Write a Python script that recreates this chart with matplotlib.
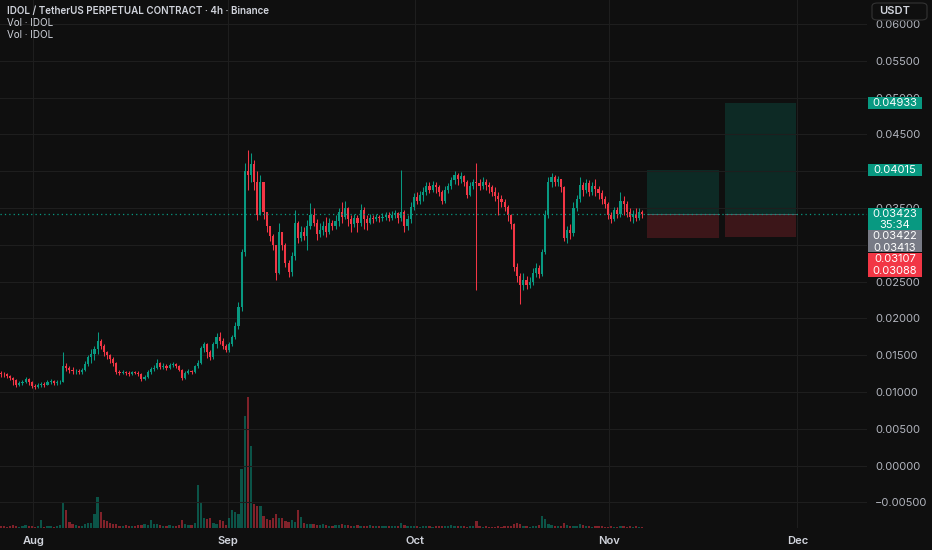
import datetime as dt
import matplotlib
matplotlib.use("Agg")
import matplotlib.pyplot as plt
import matplotlib.dates as mdates
from matplotlib.patches import Rectangle, FancyBboxPatch
from matplotlib.ticker import FuncFormatter
import numpy as np

# 12h candles, starting 26 Jul
start = dt.datetime(2025, 7, 26, 12)
first_open = 0.0126

closes = [
    0.0125, 0.0124, 0.0122, 0.0119, 0.0117, 0.0110, 0.0112, 0.0113, 0.0118, 0.0114,
    0.0108, 0.0107, 0.0109, 0.0111, 0.0110, 0.0113, 0.0115, 0.0112, 0.0113, 0.0114,
    0.0136, 0.0133, 0.0130, 0.0128, 0.0129, 0.0127, 0.0130, 0.0138, 0.0147, 0.0152,
    0.0158, 0.0170, 0.0163, 0.0154, 0.0150, 0.0145, 0.0140, 0.0127, 0.0126, 0.0127,
    0.0126, 0.0125, 0.0127, 0.0126, 0.0125, 0.0118, 0.0120, 0.0127, 0.0131, 0.0133,
    0.0140, 0.0134, 0.0136, 0.0133, 0.0137, 0.0138, 0.0136, 0.0130, 0.0119, 0.0126,
    0.0128, 0.0127, 0.0135, 0.0140, 0.0160, 0.0165, 0.0155, 0.0147, 0.0165, 0.0175,
    0.0170, 0.0162, 0.0157, 0.0165, 0.0175, 0.0190, 0.0215, 0.0290, 0.0400, 0.0395,
    0.0410, 0.0385, 0.0340, 0.0385, 0.0345, 0.0325, 0.0312, 0.0300, 0.0262, 0.0318,
    0.0300, 0.0275, 0.0263, 0.0285, 0.0330, 0.0310, 0.0318, 0.0312, 0.0325, 0.0340,
    0.0330, 0.0315, 0.0320, 0.0326, 0.0318, 0.0330, 0.0326, 0.0332, 0.0345, 0.0338,
    0.0350, 0.0335, 0.0328, 0.0336, 0.0330, 0.0348, 0.0335, 0.0330, 0.0337, 0.0335,
    0.0338, 0.0336, 0.0338, 0.0341, 0.0337, 0.0340, 0.0343, 0.0336, 0.0345, 0.0325,
    0.0335, 0.0352, 0.0365, 0.0360, 0.0368, 0.0372, 0.0380, 0.0375, 0.0382, 0.0378,
    0.0372, 0.0360, 0.0375, 0.0380, 0.0388, 0.0395, 0.0390, 0.0393, 0.0386, 0.0368,
    0.0380, 0.0386, 0.0384, 0.0380, 0.0386, 0.0382, 0.0378, 0.0372, 0.0366, 0.0362,
    0.0358, 0.0352, 0.0340, 0.0328, 0.0270, 0.0258, 0.0245, 0.0252, 0.0245, 0.0250,
    0.0262, 0.0268, 0.0260, 0.0290, 0.0340, 0.0385, 0.0392, 0.0386, 0.0390, 0.0378,
    0.0310, 0.0320, 0.0316, 0.0350, 0.0362, 0.0382, 0.0375, 0.0384, 0.0372, 0.0380,
    0.0376, 0.0370, 0.0362, 0.0356, 0.0340, 0.0335, 0.0348, 0.0342, 0.0360, 0.0355,
    0.0345, 0.0338, 0.0342, 0.0336, 0.0345, 0.03423,
]

highs = [
    0.0128, 0.0127, 0.0126, 0.0123, 0.0121, 0.0118, 0.0115, 0.0116, 0.0121, 0.0119,
    0.0115, 0.0111, 0.0112, 0.0114, 0.0114, 0.0117, 0.0118, 0.0117, 0.0116, 0.0117,
    0.0154, 0.0140, 0.0136, 0.0134, 0.0132, 0.0131, 0.0133, 0.0142, 0.0150, 0.0158,
    0.0162, 0.0181, 0.0172, 0.0165, 0.0156, 0.0152, 0.0147, 0.0141, 0.0130, 0.0130,
    0.0129, 0.0128, 0.0129, 0.0129, 0.0128, 0.0126, 0.0123, 0.0130, 0.0134, 0.0137,
    0.0145, 0.0141, 0.0139, 0.0138, 0.0140, 0.0141, 0.0140, 0.0137, 0.0131, 0.0128,
    0.0131, 0.0130, 0.0137, 0.0143, 0.0163, 0.0168, 0.0166, 0.0157, 0.0168, 0.0180,
    0.0181, 0.0174, 0.0165, 0.0168, 0.0178, 0.0195, 0.0222, 0.0295, 0.0411, 0.0429,
    0.0425, 0.0415, 0.0400, 0.0395, 0.0385, 0.0345, 0.0325, 0.0315, 0.0300, 0.0330,
    0.0318, 0.0302, 0.0280, 0.0290, 0.0347, 0.0332, 0.0325, 0.0324, 0.0334, 0.0357,
    0.0350, 0.0335, 0.0330, 0.0333, 0.0338, 0.0336, 0.0334, 0.0340, 0.0350, 0.0358,
    0.0360, 0.0352, 0.0340, 0.0342, 0.0340, 0.0355, 0.0352, 0.0340, 0.0342, 0.0341,
    0.0342, 0.0341, 0.0343, 0.0345, 0.0344, 0.0346, 0.0348, 0.0345, 0.0402, 0.0348,
    0.0340, 0.0358, 0.0370, 0.0372, 0.0373, 0.0378, 0.0385, 0.0386, 0.0387, 0.0385,
    0.0382, 0.0374, 0.0380, 0.0384, 0.0392, 0.0400, 0.0398, 0.0399, 0.0395, 0.0388,
    0.0385, 0.0390, 0.0411, 0.0390, 0.0392, 0.0390, 0.0386, 0.0382, 0.0378, 0.0372,
    0.0368, 0.0362, 0.0354, 0.0342, 0.0330, 0.0275, 0.0262, 0.0262, 0.0258, 0.0256,
    0.0268, 0.0275, 0.0272, 0.0295, 0.0347, 0.0392, 0.0397, 0.0395, 0.0394, 0.0390,
    0.0380, 0.0325, 0.0328, 0.0358, 0.0368, 0.0392, 0.0386, 0.0389, 0.0388, 0.0386,
    0.0390, 0.0380, 0.0374, 0.0366, 0.0358, 0.0345, 0.0352, 0.0352, 0.0372, 0.0366,
    0.0360, 0.0350, 0.0348, 0.0350, 0.0350, 0.0348,
]

lows = [
    0.0121, 0.0121, 0.0119, 0.0116, 0.0109, 0.0107, 0.0108, 0.0110, 0.0112, 0.0110,
    0.0105, 0.0104, 0.0106, 0.0107, 0.0107, 0.0109, 0.0111, 0.0109, 0.0110, 0.0111,
    0.0113, 0.0128, 0.0126, 0.0125, 0.0125, 0.0124, 0.0125, 0.0129, 0.0136, 0.0140,
    0.0143, 0.0152, 0.0158, 0.0149, 0.0145, 0.0140, 0.0136, 0.0124, 0.0123, 0.0124,
    0.0123, 0.0122, 0.0123, 0.0124, 0.0122, 0.0115, 0.0116, 0.0119, 0.0125, 0.0129,
    0.0131, 0.0131, 0.0132, 0.0130, 0.0131, 0.0134, 0.0133, 0.0128, 0.0117, 0.0118,
    0.0124, 0.0124, 0.0126, 0.0133, 0.0138, 0.0155, 0.0146, 0.0144, 0.0145, 0.0160,
    0.0165, 0.0158, 0.0155, 0.0155, 0.0162, 0.0172, 0.0186, 0.0210, 0.0285, 0.0375,
    0.0385, 0.0375, 0.0334, 0.0340, 0.0335, 0.0318, 0.0305, 0.0293, 0.0252, 0.0260,
    0.0293, 0.0270, 0.0256, 0.0258, 0.0280, 0.0302, 0.0305, 0.0306, 0.0293, 0.0322,
    0.0325, 0.0306, 0.0311, 0.0313, 0.0311, 0.0315, 0.0320, 0.0322, 0.0326, 0.0330,
    0.0335, 0.0325, 0.0318, 0.0324, 0.0318, 0.0326, 0.0322, 0.0320, 0.0328, 0.0330,
    0.0332, 0.0331, 0.0333, 0.0334, 0.0333, 0.0334, 0.0336, 0.0330, 0.0332, 0.0318,
    0.0320, 0.0330, 0.0348, 0.0355, 0.0356, 0.0360, 0.0368, 0.0370, 0.0372, 0.0370,
    0.0366, 0.0355, 0.0357, 0.0370, 0.0376, 0.0383, 0.0382, 0.0384, 0.0380, 0.0363,
    0.0366, 0.0376, 0.0238, 0.0375, 0.0376, 0.0374, 0.0370, 0.0366, 0.0360, 0.0340,
    0.0352, 0.0346, 0.0333, 0.0322, 0.0265, 0.0250, 0.0220, 0.0238, 0.0240, 0.0242,
    0.0246, 0.0256, 0.0255, 0.0258, 0.0288, 0.0336, 0.0378, 0.0380, 0.0380, 0.0372,
    0.0305, 0.0303, 0.0308, 0.0312, 0.0346, 0.0358, 0.0366, 0.0370, 0.0366, 0.0368,
    0.0366, 0.0362, 0.0356, 0.0350, 0.0335, 0.0330, 0.0333, 0.0336, 0.0338, 0.0340,
    0.0338, 0.0332, 0.0330, 0.0333, 0.0334, 0.0337,
]

# volume in millions IDOL
volumes = [
    2, 2, 1, 2, 3, 2, 1, 2, 3, 2, 2, 1, 2, 8, 1, 2, 2, 1, 2, 3,
    26, 18, 6, 4, 3, 2, 2, 4, 5, 5,
    14, 31, 16, 8, 7, 5, 4, 4, 2, 2,
    3, 2, 2, 2, 3, 3, 4, 3, 8, 4,
    4, 3, 2, 2, 3, 2, 2, 3, 8, 4,
    3, 3, 5, 43, 26, 10, 9, 10, 5, 4,
    8, 7, 3, 10, 18, 16, 14, 59, 112, 131,
    82, 24, 22, 22, 12, 9, 8, 10, 14, 10,
    10, 7, 6, 8, 6, 18, 11, 5, 4, 4,
    4, 3, 3, 4, 3, 2, 2, 3, 3, 4,
    3, 3, 2, 2, 3, 2, 2, 2, 3, 2,
    2, 2, 2, 2, 2, 2, 2, 2, 5, 3,
    2, 2, 2, 2, 1, 2, 2, 2, 1, 2,
    2, 2, 2, 2, 3, 2, 2, 2, 2, 1,
    2, 2, 7, 2, 1, 2, 1, 1, 1, 2,
    1, 2, 2, 2, 4, 5, 4, 2, 2, 1,
    2, 2, 3, 12, 9, 4, 3, 2, 2, 2,
    5, 3, 2, 2, 2, 4, 3, 2, 2, 1,
    2, 2, 2, 1, 1, 2, 1, 1, 2, 2,
    1, 2, 1, 2, 1, 1,
]

last_price = 0.03423
countdown = "35:34"

# two long-position tools drawn to the right of the last candle
pos_start = [dt.datetime(2025, 11, 7, 0), dt.datetime(2025, 11, 19, 11)]
pos_end = [dt.datetime(2025, 11, 18, 10), dt.datetime(2025, 11, 30, 19)]
pos_entry = [0.03422, 0.03413]
pos_target = [0.04015, 0.04933]
pos_stop = [0.03088, 0.03107]

BG = "#0f0f0f"
GRID = "#1e1e1e"
UP = "#089981"
DOWN = "#f23645"
TXT = "#b2b5be"
W, H = 932, 550

plt.rcParams['font.family'] = ['Inter', 'DejaVu Sans']

opens = [first_open] + closes[:-1]
o = np.array(opens)
c = np.array(closes)
hi = np.maximum(np.array(highs), np.maximum(o, c))
lo = np.minimum(np.array(lows), np.minimum(o, c))
times = [start + dt.timedelta(hours=12 * i) for i in range(len(closes))]
x = mdates.date2num(times) + 0.25
up = c >= o
cols = np.where(up, UP, DOWN)

fig = plt.figure(figsize=(W / 100, H / 100), dpi=100, facecolor=BG)
rect = [0, 22 / H, 867 / W, 528 / H]

# volume overlay sits behind the candles
axv = fig.add_axes(rect, facecolor=BG)
ax = fig.add_axes(rect, sharex=axv)
ax.patch.set_visible(False)

axv.bar(x, volumes, width=0.36, color=cols, alpha=0.5, linewidth=0)
axv.set_ylim(0, max(volumes) / 0.248)
axv.axis("off")

xmin = mdates.date2num(dt.datetime(2025, 7, 26, 16))
xmax = mdates.date2num(dt.datetime(2025, 12, 12, 3))

# grid
for m in [dt.datetime(2025, mm, 1) for mm in (8, 9, 10, 11, 12)]:
    axv.axvline(mdates.date2num(m), color=GRID, lw=0.8, zorder=0)
yt = np.round(np.arange(-0.005, 0.0601, 0.005), 5)
ax.set_yticks(yt)
ax.grid(axis="y", color=GRID, lw=0.8, zorder=0)
ax.set_xlim(xmin, xmax)
ax.set_ylim(-0.00847, 0.06327)

# candles
ax.vlines(x, lo, hi, colors=cols, lw=0.75, zorder=2)
body = np.maximum(np.abs(c - o), 0.00008)
ax.bar(x, body, bottom=np.minimum(o, c), width=0.34, color=cols, linewidth=0, zorder=3)

# position tools
for s, e, en, tg, st in zip(pos_start, pos_end, pos_entry, pos_target, pos_stop):
    x0 = mdates.date2num(s)
    x1 = mdates.date2num(e)
    ax.add_patch(Rectangle((x0, en), x1 - x0, tg - en, facecolor=UP, alpha=0.2, lw=0, zorder=1))
    ax.add_patch(Rectangle((x0, st), x1 - x0, en - st, facecolor=DOWN, alpha=0.2, lw=0, zorder=1))
    ax.plot([x0, x1], [en, en], color="#5d6068", lw=0.6, zorder=1)

# last price line
ax.axhline(last_price, color=UP, lw=0.9, ls=(0, (1, 2.5)), zorder=4)

# axes styling
for sp in ax.spines.values():
    sp.set_visible(False)
ax.yaxis.tick_right()
ax.tick_params(axis="y", length=0, pad=6, labelsize=8, labelcolor=TXT)
ax.yaxis.set_major_formatter(FuncFormatter(lambda v, p: f"{v:.5f}".replace("-", "\u2212")))
ax.xaxis.set_major_locator(mdates.MonthLocator())
ax.xaxis.set_major_formatter(mdates.DateFormatter("%b"))
ax.tick_params(axis="x", length=0, pad=6, labelsize=8, labelcolor="#d1d4dc")
for lab in ax.get_xticklabels():
    lab.set_fontweight("semibold")
ax.set_xlim(xmin, xmax)


def py(price):
    return H - ax.transData.transform((xmin, price))[1]


def tag(top, bot, color):
    fig.add_artist(Rectangle((868 / W, 1 - bot / H), 54 / W, (bot - top) / H,
                             transform=fig.transFigure, facecolor=color, lw=0, zorder=5))


def tag_text(ypx, s):
    fig.text(895 / W, 1 - ypx / H, s, ha="center", va="center", color="white",
             fontsize=8, zorder=6)


# target labels at their own levels
for tg in pos_target:
    yy = py(tg)
    tag(yy - 6, yy + 6, UP)
    tag_text(yy, f"{tg:.5f}")

# last price + stacked entry / stop labels
yl = py(last_price)
tag(yl - 6, yl + 16.5, UP)
tag_text(yl, f"{last_price:.5f}")
tag_text(yl + 11.5, countdown)
tag(yl + 16.5, yl + 38.5, "#787b86")
for k, en in enumerate(sorted(pos_entry, reverse=True)):
    tag_text(yl + 22 + 12 * k, f"{en:.5f}")
tag(yl + 39.5, yl + 63, DOWN)
for k, st in enumerate(sorted(pos_stop, reverse=True)):
    tag_text(yl + 45 + 12 * k, f"{st:.5f}")

# currency box
fig.add_artist(FancyBboxPatch((872 / W, 1 - 20 / H), 55 / W, 17 / H,
                              boxstyle="round,pad=0,rounding_size=0.006",
                              transform=fig.transFigure, facecolor=BG,
                              edgecolor="#333333", lw=0.8, zorder=5))
fig.text(879 / W, 1 - 11.5 / H, "USDT", ha="left", va="center", color="#d1d4dc",
         fontsize=8, fontweight="semibold", zorder=6)

# legend text
fig.text(7 / W, 1 - 11 / H, "IDOL / TetherUS PERPETUAL CONTRACT \u00b7 4h \u00b7 Binance",
         color="#d1d4dc", fontsize=7.1, fontweight="semibold", va="center")
fig.text(7 / W, 1 - 23 / H, "Vol \u00b7 IDOL", color="#d1d4dc", fontsize=7.1, va="center")
fig.text(7 / W, 1 - 35 / H, "Vol \u00b7 IDOL", color="#d1d4dc", fontsize=7.1, va="center")

fig.savefig("out.png", dpi=100, facecolor=BG)
